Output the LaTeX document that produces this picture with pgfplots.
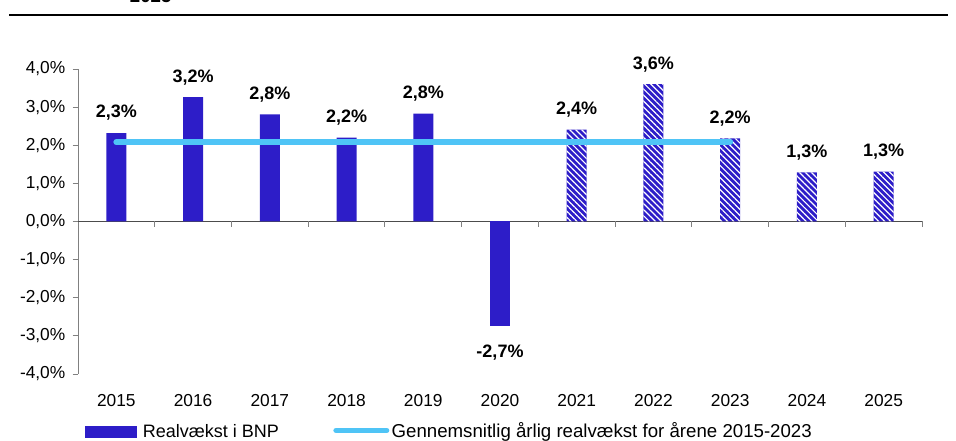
\documentclass[border=0pt]{standalone}
\usepackage{pgfplots}
\pgfplotsset{compat=1.18}
\usepackage{fontspec}
\setmainfont{Liberation Sans}
\usetikzlibrary{patterns.meta}
\definecolor{barblue}{HTML}{2D1DC8}
\definecolor{avgblue}{HTML}{4FC4F6}
\definecolor{axgray}{HTML}{808080}
\tikzset{lbl/.style={font=\bfseries\fontsize{13.5}{15}\selectfont, text=black, inner ysep=9pt}}
\begin{document}
\begin{tikzpicture}
\begin{axis}[
  at={(58.5pt,50.25pt)}, anchor=south west,
  scale only axis, width=633pt, height=228.75pt,
  xmin=-0.5, xmax=10.5, ymin=-4, ymax=4,
  axis y line*=left, axis x line*=bottom,
  x axis line style={draw=none},
  y axis line style={draw=axgray, line width=0.7pt},
  xtick={0,1,2,3,4,5,6,7,8,9,10},
  xticklabels={2015,2016,2017,2018,2019,2020,2021,2022,2023,2024,2025},
  major x tick style={draw=none},
  ytick={-4,-3,-2,-1,0,1,2,3,4},
  yticklabels={{-4,0\%},{-3,0\%},{-2,0\%},{-1,0\%},{0,0\%},{1,0\%},{2,0\%},{3,0\%},{4,0\%}},
  tick align=outside,
  major tick length=4pt,
  major y tick style={draw=axgray, line width=0.7pt},
  ticklabel style={font=\fontsize{13}{15}\selectfont, text=black},
  xticklabel style={yshift=-8pt},
  yticklabel style={xshift=-2pt},
  clip=false,
]
\draw[black!70, line width=0.7pt] (axis cs:-0.5,0) -- (axis cs:10.5,0);
\pgfplotsinvokeforeach{0.5,1.5,2.5,3.5,4.5,5.5,6.5,7.5,8.5,9.5,10.5}{
  \draw[axgray, line width=0.7pt] (axis cs:#1,0) -- ([yshift=-4.5pt]axis cs:#1,0);
}
\addplot[ybar, bar width=15pt, fill=barblue, draw=none,
  point meta=explicit symbolic, nodes near coords,
  every node near coord/.append style={lbl, anchor=south}]
  coordinates {(0,2.32)[2,3\%] (1,3.26)[3,2\%] (2,2.81)[2,8\%] (3,2.2)[2,2\%] (4,2.83)[2,8\%]};
\addplot[ybar, bar width=15pt, fill=barblue, draw=none,
  point meta=explicit symbolic, nodes near coords,
  every node near coord/.append style={lbl, anchor=north, inner ysep=14pt}]
  coordinates {(5,-2.73)[-2,7\%]};
\addplot[ybar, bar width=15pt, fill=barblue, draw=none,
  point meta=explicit symbolic, nodes near coords,
  every node near coord/.append style={lbl, anchor=south}]
  coordinates {(6,2.41)[2,4\%] (7,3.6)[3,6\%] (8,2.18)[2,2\%] (9,1.29)[1,3\%] (10,1.31)[1,3\%]};
\addplot[ybar, bar width=15pt, draw=none, pattern={Lines[angle=-45,distance=3.2pt,line width=0.9pt]}, pattern color=white, forget plot]
  coordinates {(6,2.41) (7,3.6) (8,2.18) (9,1.29) (10,1.31)};
\addplot[avgblue, line width=4.5pt, line cap=round] coordinates {(0,2.08) (8,2.08)};
\end{axis}
% title remnant and rule
\node[anchor=base, inner sep=0pt, font=\bfseries\fontsize{14}{16}\selectfont] at (113pt,328.5pt) {2025};
\draw[black, line width=1.5pt] (6.75pt,319.5pt) -- (711pt,319.5pt);
% legend
\fill[barblue] (63.75pt,2.25pt) rectangle (102.75pt,11.25pt);
\node[anchor=base west, inner sep=0pt, font=\fontsize{13.5}{15}\selectfont] at (107pt,2.5pt) {Realvækst i BNP};
\draw[avgblue, line width=4pt, line cap=round] (252pt,8pt) -- (290pt,8pt);
\node[anchor=base west, inner sep=0pt, font=\fontsize{14}{15}\selectfont] at (293.5pt,2.5pt) {Gennemsnitlig årlig realvækst for årene 2015-2023};
\pgfresetboundingbox
\path[use as bounding box] (0,0) rectangle (717pt,330.75pt);
\end{tikzpicture}
\end{document}
